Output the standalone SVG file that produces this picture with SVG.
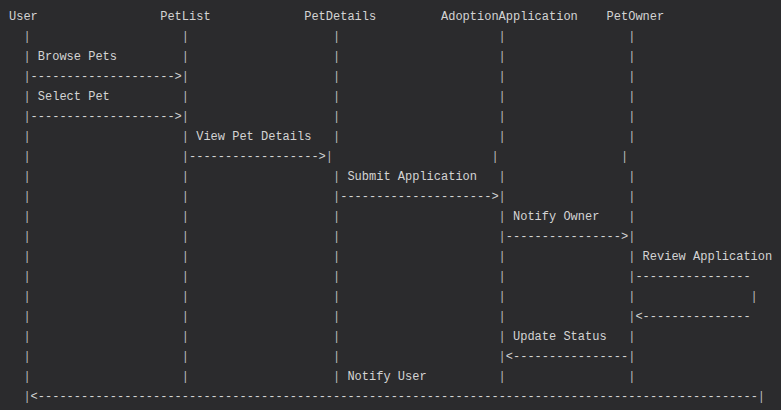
<svg xmlns="http://www.w3.org/2000/svg" width="781" height="410" viewBox="0 0 781 410">
<style>
text{font-family:"Courier New","Liberation Mono",monospace;font-size:12px;fill:#d4d4d4}
.bar{fill:#bdbdbd;opacity:0.99}
</style>
<rect width="781" height="410" fill="#2b2b2d"/>
<g id="user">
<text x="9" y="20">User</text>
<text class="bar"><tspan x="23.4" y="40">|</tspan><tspan x="23.4" y="60">|</tspan><tspan x="23.4" y="80">|</tspan><tspan x="23.4" y="100">|</tspan><tspan x="23.4" y="120">|</tspan><tspan x="23.4" y="140">|</tspan><tspan x="23.4" y="160">|</tspan><tspan x="23.4" y="180">|</tspan><tspan x="23.4" y="200">|</tspan><tspan x="23.4" y="220">|</tspan><tspan x="23.4" y="240">|</tspan><tspan x="23.4" y="260">|</tspan><tspan x="23.4" y="280">|</tspan><tspan x="23.4" y="300">|</tspan><tspan x="23.4" y="320">|</tspan><tspan x="23.4" y="340">|</tspan><tspan x="23.4" y="360">|</tspan><tspan x="23.4" y="380">|</tspan><tspan x="23.4" y="400">|</tspan></text>
</g>
<g id="petlist">
<text x="160.2" y="20">PetList</text>
<text class="bar"><tspan x="181.8" y="40">|</tspan><tspan x="181.8" y="60">|</tspan><tspan x="181.8" y="80">|</tspan><tspan x="181.8" y="100">|</tspan><tspan x="181.8" y="120">|</tspan><tspan x="181.8" y="140">|</tspan><tspan x="181.8" y="160">|</tspan><tspan x="181.8" y="180">|</tspan><tspan x="181.8" y="200">|</tspan><tspan x="181.8" y="220">|</tspan><tspan x="181.8" y="240">|</tspan><tspan x="181.8" y="260">|</tspan><tspan x="181.8" y="280">|</tspan><tspan x="181.8" y="300">|</tspan><tspan x="181.8" y="320">|</tspan><tspan x="181.8" y="340">|</tspan><tspan x="181.8" y="360">|</tspan><tspan x="181.8" y="380">|</tspan></text>
</g>
<g id="petdetails">
<text x="304.2" y="20">PetDetails</text>
<text class="bar"><tspan x="333" y="40">|</tspan><tspan x="333" y="60">|</tspan><tspan x="333" y="80">|</tspan><tspan x="333" y="100">|</tspan><tspan x="333" y="120">|</tspan><tspan x="333" y="140">|</tspan><tspan x="325.8" y="160">|</tspan><tspan x="333" y="180">|</tspan><tspan x="333" y="200">|</tspan><tspan x="333" y="220">|</tspan><tspan x="333" y="240">|</tspan><tspan x="333" y="260">|</tspan><tspan x="333" y="280">|</tspan><tspan x="333" y="300">|</tspan><tspan x="333" y="320">|</tspan><tspan x="333" y="340">|</tspan><tspan x="333" y="360">|</tspan><tspan x="333" y="380">|</tspan></text>
</g>
<g id="adoptionapplication">
<text x="441" y="20">AdoptionApplication</text>
<text class="bar"><tspan x="498.6" y="40">|</tspan><tspan x="498.6" y="60">|</tspan><tspan x="498.6" y="80">|</tspan><tspan x="498.6" y="100">|</tspan><tspan x="498.6" y="120">|</tspan><tspan x="498.6" y="140">|</tspan><tspan x="491.4" y="160">|</tspan><tspan x="498.6" y="180">|</tspan><tspan x="498.6" y="200">|</tspan><tspan x="498.6" y="220">|</tspan><tspan x="498.6" y="240">|</tspan><tspan x="498.6" y="260">|</tspan><tspan x="498.6" y="280">|</tspan><tspan x="498.6" y="300">|</tspan><tspan x="498.6" y="320">|</tspan><tspan x="498.6" y="340">|</tspan><tspan x="498.6" y="360">|</tspan><tspan x="498.6" y="380">|</tspan></text>
</g>
<g id="petowner">
<text x="606.6" y="20">PetOwner</text>
<text class="bar"><tspan x="628.2" y="40">|</tspan><tspan x="628.2" y="60">|</tspan><tspan x="628.2" y="80">|</tspan><tspan x="628.2" y="100">|</tspan><tspan x="628.2" y="120">|</tspan><tspan x="628.2" y="140">|</tspan><tspan x="621" y="160">|</tspan><tspan x="628.2" y="180">|</tspan><tspan x="628.2" y="200">|</tspan><tspan x="628.2" y="220">|</tspan><tspan x="628.2" y="240">|</tspan><tspan x="628.2" y="260">|</tspan><tspan x="628.2" y="280">|</tspan><tspan x="628.2" y="300">|</tspan><tspan x="628.2" y="320">|</tspan><tspan x="628.2" y="340">|</tspan><tspan x="628.2" y="360">|</tspan><tspan x="628.2" y="380">|</tspan></text>
</g>
<g id="connectors">
<text x="30.6" y="80">--------------------&gt;</text>
<text x="30.6" y="120">--------------------&gt;</text>
<text x="189" y="160">------------------&gt;</text>
<text x="340.2" y="200">---------------------&gt;</text>
<text x="505.8" y="240">----------------&gt;</text>
<text x="635.4" y="280">----------------</text>
<text class="bar" x="750.6" y="300">|</text>
<text x="635.4" y="320">&lt;---------------</text>
<text x="505.8" y="360">&lt;----------------</text>
<text x="30.6" y="400">&lt;----------------------------------------------------------------------------------------------------</text>
<text class="bar" x="757.8" y="400">|</text>
</g>
<g id="labels">
<text x="37.8" y="60">Browse Pets</text>
<text x="37.8" y="100">Select Pet</text>
<text x="196.2" y="140">View Pet Details</text>
<text x="347.4" y="180">Submit Application</text>
<text x="513" y="220">Notify Owner</text>
<text x="642.6" y="260">Review Application</text>
<text x="513" y="340">Update Status</text>
<text x="347.4" y="380">Notify User</text>
</g>
</svg>
